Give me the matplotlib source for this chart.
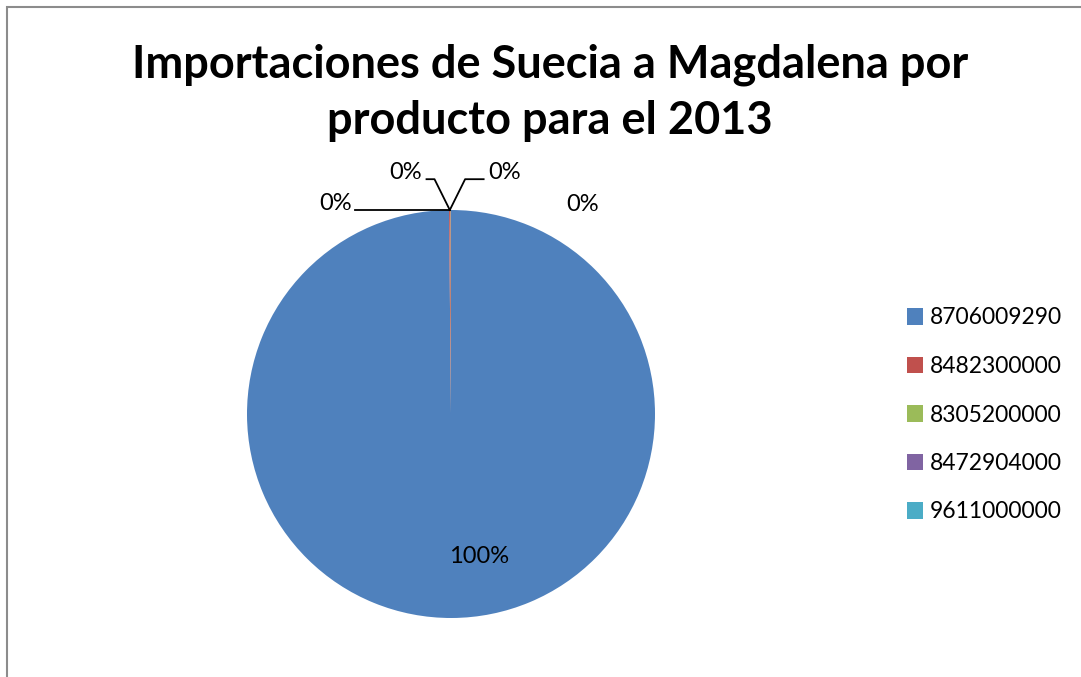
import numpy as np
import matplotlib
matplotlib.use("Agg")
import matplotlib.pyplot as plt
from matplotlib.patches import Rectangle

# Data
products = ["8706009290", "8482300000", "8305200000", "8472904000", "9611000000"]
values = [1520000.0, 1800.0, 350.0, 120.0, 40.0]
colors = ["#4F81BD", "#C0504D", "#9BBB59", "#8064A2", "#4BACC6"]
title = "Importaciones de Suecia a Magdalena por\nproducto para el 2013"

FONT = "Lato"
W, H = 1081, 677
fig = plt.figure(figsize=(W / 100, H / 100), dpi=100)

# chart frame (gray border extending beyond the image at right/bottom)
fig.patches.append(Rectangle((7 / W, -0.2), 1.5, 1.2 - 7 / H,
                             transform=fig.transFigure, fill=False,
                             edgecolor="#8c8c8c", linewidth=1.5))

cx, cy, r = 451, 414, 204
ax = fig.add_axes([(cx - r) / W, (H - cy - r) / H, 2 * r / W, 2 * r / H])
wedges, _ = ax.pie(values, colors=colors, startangle=90, counterclock=False,
                   radius=1, wedgeprops=dict(linewidth=0))
ax.set_xlim(-1, 1)
ax.set_ylim(-1, 1)
ax.set_aspect("equal")
ax.axis("off")

total = sum(values)
pcts = [f"{round(v / total * 100):.0f}%" for v in values]

LBL = 17
# 100% label inside the big slice
ax.text(0.137, -0.70, pcts[0], ha="center", va="center", fontsize=LBL,
        family=FONT, color="#000000")

# small-slice labels with leader lines from the pie top
top = wedges[1]
ang = np.deg2rad((top.theta1 + top.theta2) / 2)
ax0, ay0 = np.cos(ang), np.sin(ang)
label_offsets = [(-0.565, 1.034, "h"), (-0.225, 1.186, "e"),
                 (0.265, 1.186, "e"), (0.647, 1.025, None)]
for (dx, dy, kind), p in zip(label_offsets, pcts[1:]):
    ax.text(dx, dy, p, ha="center", va="center", fontsize=LBL, family=FONT,
            color="#000000", clip_on=False)
    if kind == "h":
        ax.plot([ax0, dx + 0.095], [ay0, ay0], color="black", lw=1.3, clip_on=False)
    elif kind == "e":
        sgn = np.sign(dx)
        ex, ey = ax0 + sgn * 0.075, dy - 0.035
        ax.plot([ax0, ex, dx - sgn * 0.105], [ay0, ey, ey], color="black",
                lw=1.3, clip_on=False)

fig.text(550 / W, 1 - 93 / H, title, ha="center", va="center", fontsize=32.5,
         fontweight="bold", family=FONT, linespacing=1.4)

handles = [Rectangle((0, 0), 1, 1, facecolor=c, edgecolor="none") for c in colors]
leg = fig.legend(handles, products, loc="center left",
                 bbox_to_anchor=(907 / W, 1 - 415 / H), frameon=False,
                 prop=dict(family=FONT, size=16.5), handlelength=0.7,
                 handleheight=0.7, handletextpad=0.3, labelspacing=1.2,
                 borderaxespad=0, borderpad=0)

fig.savefig("out.png", dpi=100)
